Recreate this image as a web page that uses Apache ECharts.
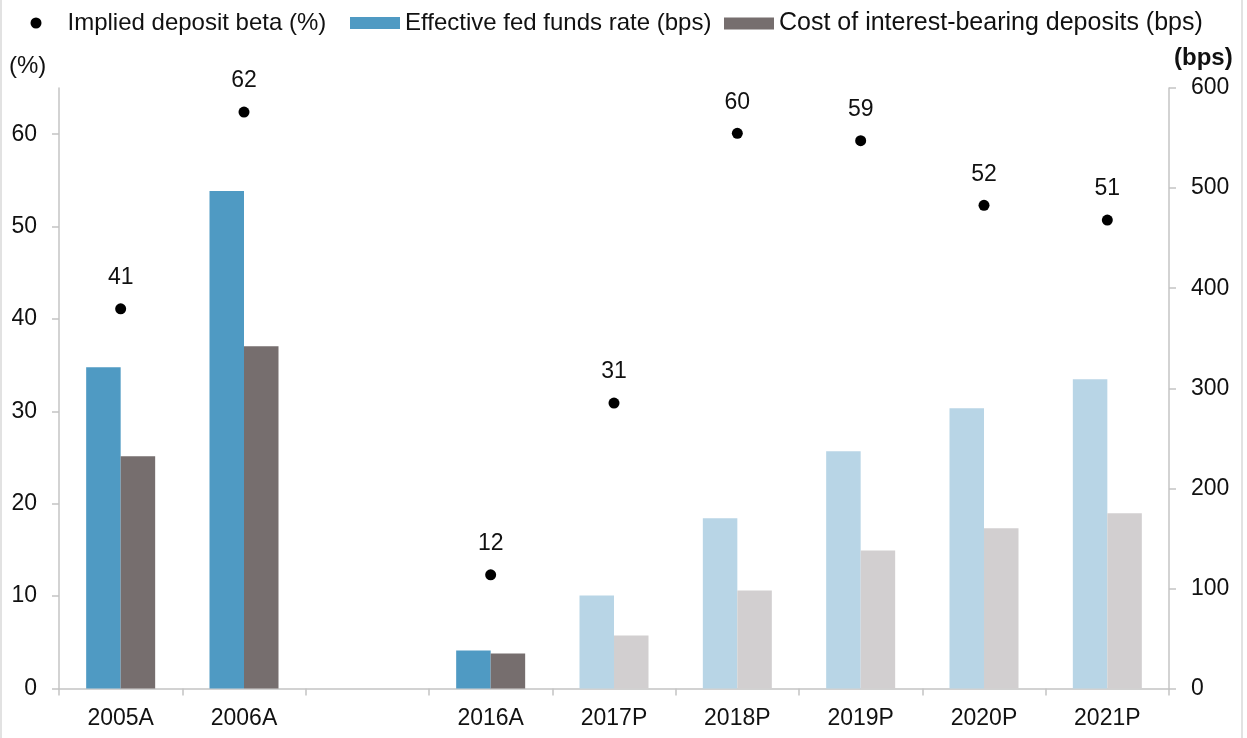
<!DOCTYPE html>
<html>
<head>
<meta charset="utf-8">
<script src="https://cdn.jsdelivr.net/npm/echarts@6/dist/echarts.min.js"></script>
<style>
html,body{margin:0;padding:0;background:#fff;}
#chart{width:1247px;height:738px;}
</style>
</head>
<body>
<div id="chart"></div>
<script>
const categories = ['2005A', '2006A', '', '2016A', '2017P', '2018P', '2019P', '2020P', '2021P'];
const fedFunds = [321, 497, null, 38, 93, 170, 237, 280, 309];
const depositCost = [232, 342, null, 35, 53, 98, 138, 160, 175];
const depositBeta = [41.1, 62.4, null, 12.3, 30.9, 60.1, 59.3, 52.3, 50.7];
const leftTicks = [0, 10, 20, 30, 40, 50, 60];
const rightTicks = [0, 100, 200, 300, 400, 500, 600];

const FONT = '"Liberation Sans", Arial, sans-serif';
const TXT = '#111';
const isProj = c => c.endsWith('P');

const colActualBlue = '#4f9ac3', colProjBlue = '#b8d5e6';
const colActualGrey = '#766e6e', colProjGrey = '#d2cfd0';

const chart = echarts.init(document.getElementById('chart'), null, {renderer: 'canvas'});

const legendText = {fontFamily: FONT, fontSize: 24, color: TXT};

chart.setOption({
  animation: false,
  backgroundColor: '#fff',
  textStyle: {fontFamily: FONT},
  grid: {left: 59, right: 78, top: 88, bottom: 49.5, containLabel: false},
  legend: [
    {data: ['Implied deposit beta (%)'], left: 30.5, top: 11, padding: 0, icon: 'circle',
     itemWidth: 53, itemHeight: 11, textStyle: legendText, selectedMode: false,
     itemStyle: {opacity: 1}},
    {data: ['Effective fed funds rate (bps)'], left: 350, top: 11, padding: 0, icon: 'rect',
     itemWidth: 50, itemHeight: 12, textStyle: legendText, selectedMode: false},
    {data: ['Cost of interest-bearing deposits (bps)'], left: 724, top: 11, padding: 0, icon: 'rect',
     itemWidth: 50, itemHeight: 12, textStyle: {fontFamily: FONT, fontSize: 25, color: TXT}, selectedMode: false}
  ],
  xAxis: {
    type: 'category',
    data: categories,
    boundaryGap: true,
    axisLine: {lineStyle: {color: '#c4c4c4', width: 1.5}},
    axisTick: {show: true, length: 7, lineStyle: {color: '#c4c4c4', width: 1.5}},
    axisLabel: {margin: 19, fontFamily: FONT, fontSize: 23, color: TXT},
    splitLine: {show: false}
  },
  yAxis: [
    {
      type: 'value', min: 0, max: 65, interval: 10, position: 'left',
      axisLine: {show: true, lineStyle: {color: '#c4c4c4', width: 1.5}},
      axisTick: {show: true, length: 7, lineStyle: {color: '#c4c4c4', width: 1.5}, customValues: leftTicks},
      axisLabel: {margin: 22, fontFamily: FONT, fontSize: 23, color: TXT, customValues: leftTicks},
      splitLine: {show: false}
    },
    {
      type: 'value', min: 0, max: 600, interval: 100, position: 'right',
      axisLine: {show: true, lineStyle: {color: '#c4c4c4', width: 1.5}},
      axisTick: {show: true, length: 7, lineStyle: {color: '#c4c4c4', width: 1.5}, customValues: rightTicks},
      axisLabel: {margin: 22, fontFamily: FONT, fontSize: 23, color: TXT, customValues: rightTicks},
      splitLine: {show: false}
    }
  ],
  graphic: [
    {type: 'text', left: 9, top: 54, style: {text: '(%)', font: '24px ' + FONT, fill: TXT}},
    {type: 'text', left: 1174, top: 46, style: {text: '(bps)', font: 'bold 24px ' + FONT, fill: TXT}},
    {type: 'rect', shape: {x: 0, y: 0, width: 2, height: 738}, style: {fill: '#e2e2e2'}, silent: true},
    {type: 'rect', shape: {x: 1241, y: 0, width: 2, height: 738}, style: {fill: '#e2e2e2'}, silent: true}
  ],
  series: [
    {
      name: 'Effective fed funds rate (bps)', type: 'bar', yAxisIndex: 1,
      barWidth: 34.5, barGap: '0%',
      itemStyle: {color: colActualBlue},
      data: fedFunds.map((v, i) => ({value: v, itemStyle: {color: isProj(categories[i]) ? colProjBlue : colActualBlue}}))
    },
    {
      name: 'Cost of interest-bearing deposits (bps)', type: 'bar', yAxisIndex: 1,
      barWidth: 34.5, barGap: '0%',
      itemStyle: {color: colActualGrey},
      data: depositCost.map((v, i) => ({value: v, itemStyle: {color: isProj(categories[i]) ? colProjGrey : colActualGrey}}))
    },
    {
      name: 'Implied deposit beta (%)', type: 'scatter', yAxisIndex: 0,
      symbol: 'circle', symbolSize: 11,
      itemStyle: {color: '#000', opacity: 1},
      label: {show: true, position: 'top', distance: 14, fontFamily: FONT, fontSize: 23, color: TXT,
              opacity: 1, formatter: p => Math.round(p.value)},
      data: depositBeta
    }
  ]
});
</script>
</body>
</html>
